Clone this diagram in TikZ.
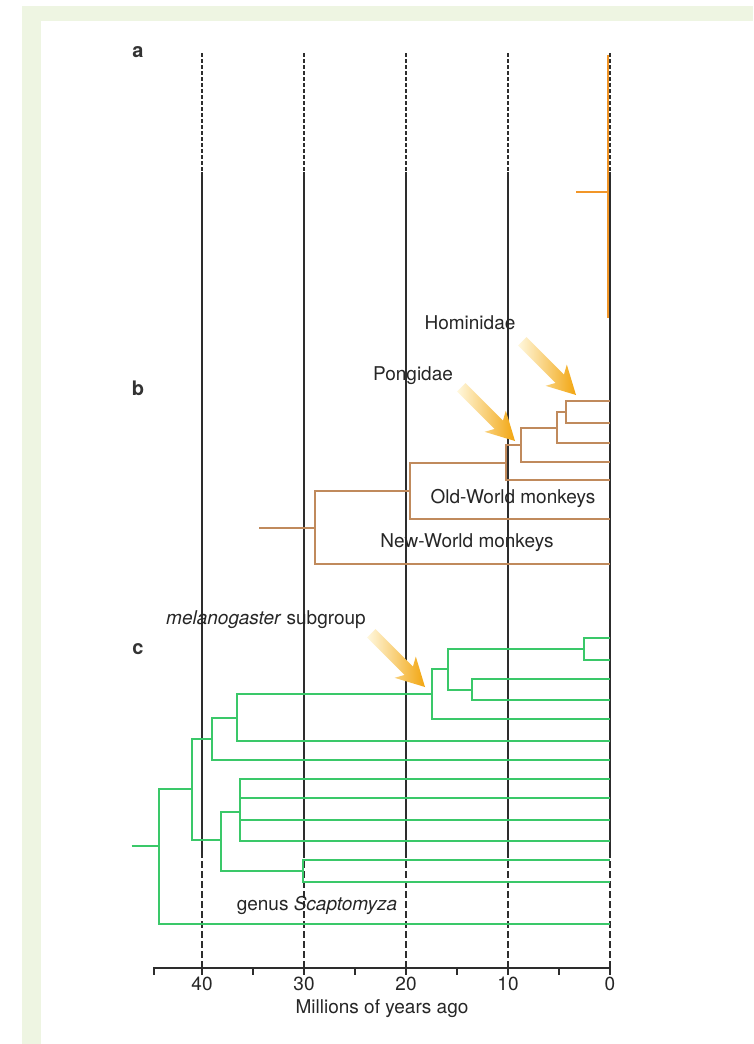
\documentclass[tikz,border=0pt]{standalone}
\usepackage{fontspec}
\setsansfont{TeX Gyre Heros}
\usetikzlibrary{calc}

\definecolor{panelgreen}{RGB}{238,245,226}
\definecolor{orangeA}{RGB}{242,150,40}
\definecolor{brownB}{RGB}{192,138,92}
\definecolor{greenC}{RGB}{58,200,105}
\definecolor{gridgray}{RGB}{45,45,45}
\definecolor{arrowgold}{RGB}{242,165,15}
\definecolor{arrowpale}{RGB}{255,248,222}

\tikzset{
  gridline/.style={gridgray, line width=1.4pt},
  topdash/.style={gridline, dash pattern=on 4pt off 2pt},
  lowdash/.style={gridline, dash pattern=on 7pt off 3pt},
  branchA/.style={orangeA, line width=2pt},
  branchB/.style={brownB, line width=2pt},
  branchC/.style={greenC, line width=2pt},
  txt/.style={font=\sffamily\fontsize{19}{22}\selectfont, text=black!85, inner sep=0pt, anchor=mid},
  panelmark/.style={font=\sffamily\bfseries\fontsize{20}{24}\selectfont, text=black!80, inner sep=0pt, anchor=mid},
  goldfill/.style={left color=arrowpale, right color=arrowgold},
}

% fat shaded pointer, tip at the named coordinate
\newcommand{\tiparrow}[1]{%
  \begin{scope}[shift={(#1)}, rotate=-45]
    \shade[goldfill] (0,0) -- (-28,15) -- (-23,6) -- (-76,6) -- (-76,-6) -- (-23,-6) -- (-28,-15) -- cycle;
  \end{scope}}

\begin{document}
\begin{tikzpicture}[x=1pt, y=-1pt]
  \useasboundingbox (0,0) rectangle (753,1044);
  \fill[white] (0,0) rectangle (753,1044);
  \fill[panelgreen] (22,6) rectangle (753,1044);
  \fill[white] (41,21) rectangle (753,1044);

  % time axis in Myr
  \begin{scope}[x=-10.2pt, xshift=610pt]
    \foreach \t in {40,30,20,10,0} {
      \draw[topdash] (\t,53) -- (\t,172);
      \draw[gridline] (\t,172) -- (\t,851);
      \draw[lowdash] (\t,851) -- (\t,968);
    }
    \coordinate (axisL) at (44.7,968);
    \coordinate (axisR) at (0,968);
    \draw[gridline] (axisL) -- (axisR);
    \foreach \t in {44.7,40,35,30,25,20,15,10,5,0}
      \draw[gridline] (\t,967) -- (\t,975);
    \foreach \t in {40,30,20,10,0}
      \node[txt] (tick\t) at (\t,988) {\t};
    \node[txt] (axistitle) at (22.35,1011) {Millions of years ago};

    % a
    \coordinate (aTop) at (0.2,55);
    \coordinate (aBot) at (0.2,318);
    \coordinate (aMid) at (0.2,192);
    \coordinate (aStem) at (3.3,192);
    \draw[branchA] (aTop) -- (aBot);
    \draw[branchA] (aStem) -- (aMid);

    % b
    \coordinate (bL1) at (0,401);
    \coordinate (bL2) at (0,423);
    \coordinate (bL3) at (0,443);
    \coordinate (bL4) at (0,462);
    \coordinate (bL5) at (0,480);
    \coordinate (bL6) at (0,519);
    \coordinate (bL7) at (0,564);
    \coordinate (bN1) at (4.3,412);
    \coordinate (bN2) at (5.2,427.5);
    \coordinate (bN3) at (8.7,445);
    \coordinate (bN4) at (10.2,462.5);
    \coordinate (bN5) at (19.6,491);
    \coordinate (bN6) at (28.9,527.5);
    \coordinate (bStem) at (34.4,527.5);
    \draw[branchB] (bN1) |- (bL1) (bN1) |- (bL2);
    \draw[branchB] (bN2) |- (bN1) (bN2) |- (bL3);
    \draw[branchB] (bN3) |- (bN2) (bN3) |- (bL4);
    \draw[branchB] (bN4) |- (bN3) (bN4) |- (bL5);
    \draw[branchB] (bN5) |- (bN4) (bN5) |- (bL6);
    \draw[branchB] (bN6) |- (bN5) (bN6) |- (bL7);
    \draw[branchB] (bStem) -- (bN6);

    % c
    \coordinate (cL1) at (0,638);
    \coordinate (cL2) at (0,660);
    \coordinate (cL3) at (0,679);
    \coordinate (cL4) at (0,700);
    \coordinate (cL5) at (0,719);
    \coordinate (cL6) at (0,741);
    \coordinate (cL7) at (0,760);
    \coordinate (cL8) at (0,779);
    \coordinate (cL9) at (0,798);
    \coordinate (cL10) at (0,820);
    \coordinate (cL11) at (0,841);
    \coordinate (cL12) at (0,860);
    \coordinate (cL13) at (0,882);
    \coordinate (cL14) at (0,924);
    \coordinate (cA) at (2.55,649);
    \coordinate (cB) at (13.5,689.5);
    \coordinate (cC) at (15.9,669);
    \coordinate (cD) at (17.5,694);
    \coordinate (cE) at (36.6,717.5);
    \coordinate (cF) at (39.0,738.5);
    \coordinate (cI) at (36.3,812);
    \coordinate (cJ) at (30.1,871);
    \coordinate (cH) at (38.1,840);
    \coordinate (cG) at (41.0,789);
    \coordinate (cR) at (44.2,846);
    \coordinate (cStem) at (46.9,846);
    \draw[branchC] (cA) |- (cL1) (cA) |- (cL2);
    \draw[branchC] (cB) |- (cL3) (cB) |- (cL4);
    \draw[branchC] (cC) |- (cA) (cC) |- (cB);
    \draw[branchC] (cD) |- (cC) (cD) |- (cL5);
    \draw[branchC] (cE) |- (cD) (cE) |- (cL6);
    \draw[branchC] (cF) |- (cE) (cF) |- (cL7);
    \draw[branchC] (cI) |- (cL8) (cI) |- (cL9) (cI) |- (cL10) (cI) |- (cL11);
    \draw[branchC] (cJ) |- (cL12) (cJ) |- (cL13);
    \draw[branchC] (cH) |- (cI) (cH) |- (cJ);
    \draw[branchC] (cG) |- (cF) (cG) |- (cH);
    \draw[branchC] (cR) |- (cG) (cR) |- (cL14);
    \draw[branchC] (cStem) -- (cR);
  \end{scope}

  \node[panelmark] (markA) at (138,55) {a};
  \node[panelmark] (markB) at (138,393) {b};
  \node[panelmark] (markC) at (138,652) {c};

  \node[txt] (hominidae) at (470,327) {Hominidae};
  \node[txt] (pongidae) at (413,378) {Pongidae};
  \node[txt] (oldworld) at (513,501) {Old-World monkeys};
  \node[txt] (newworld) at (467,545) {New-World monkeys};
  \node[txt] (melano) at (266,622) {\textit{melanogaster} subgroup};
  \node[txt] (scapto) at (317,908) {genus \textit{Scaptomyza}};

  \coordinate (homTip) at (576,395);
  \coordinate (ponTip) at (515,441);
  \coordinate (melTip) at (425,687);
  \tiparrow{homTip}
  \tiparrow{ponTip}
  \tiparrow{melTip}
\end{tikzpicture}
\end{document}
